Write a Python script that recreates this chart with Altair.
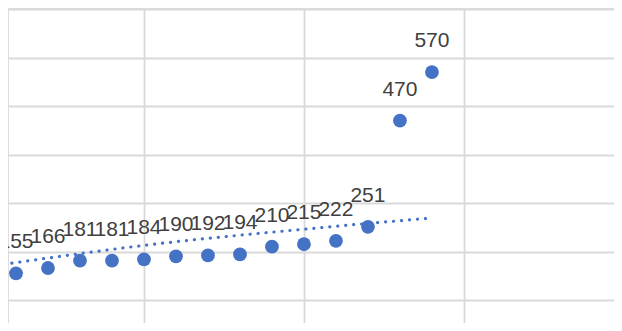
import altair as alt
import pandas as pd

x_vals = [1, 2, 3, 4, 5, 6, 7, 8, 9, 10, 11, 12, 13, 14]
y_vals = [155, 166, 181, 181, 184, 190, 192, 194, 210, 215, 222, 251, 470, 570]

trend_x = [0.87, 5.3, 10.0, 13.8]
trend_y = [176, 215, 246, 268]

x_grid = [5, 10, 15]
y_grid = [100, 200, 300, 400, 500, 600, 700]

df = pd.DataFrame({"x": x_vals, "y": y_vals})
tdf = pd.DataFrame({"x": trend_x, "y": trend_y})

W, H = 606, 315
xs = alt.Scale(domain=[0.75, 19.69], nice=False, zero=False)
ys = alt.Scale(domain=[52.6, 702.1], nice=False, zero=False)

xax = alt.Axis(values=x_grid, grid=True, labels=False, ticks=False, domain=False,
               title=None, gridColor="#d9d9d9", gridWidth=1.8)
yax = alt.Axis(values=y_grid, grid=True, labels=False, ticks=False, domain=False,
               title=None, gridColor="#d9d9d9", gridWidth=1.8)

trend = alt.Chart(tdf).mark_line(
    color="#4472C4", strokeWidth=3.2, strokeCap="round", strokeDash=[0.1, 7.9],
    interpolate="monotone", clip=True
).encode(
    x=alt.X("x:Q", scale=xs, axis=xax),
    y=alt.Y("y:Q", scale=ys, axis=yax),
)

points = alt.Chart(df).mark_circle(size=190, color="#4472C4", opacity=1, clip=True).encode(
    x=alt.X("x:Q", scale=xs),
    y=alt.Y("y:Q", scale=ys),
)

labels = alt.Chart(df).mark_text(
    font="Liberation Sans", fontSize=21, color="#404040", dy=-25,
    baseline="alphabetic", align="center", clip=True
).encode(
    x=alt.X("x:Q", scale=xs),
    y=alt.Y("y:Q", scale=ys),
    text=alt.Text("y:Q"),
)

chart = alt.layer(trend, points, labels).properties(
    width=W, height=H, padding=0,
    autosize=alt.AutoSizeParams(type="none"),
).configure_view(stroke=None).configure(background="white")

chart.save("out.html", embed_options={"renderer": "svg", "actions": False})
